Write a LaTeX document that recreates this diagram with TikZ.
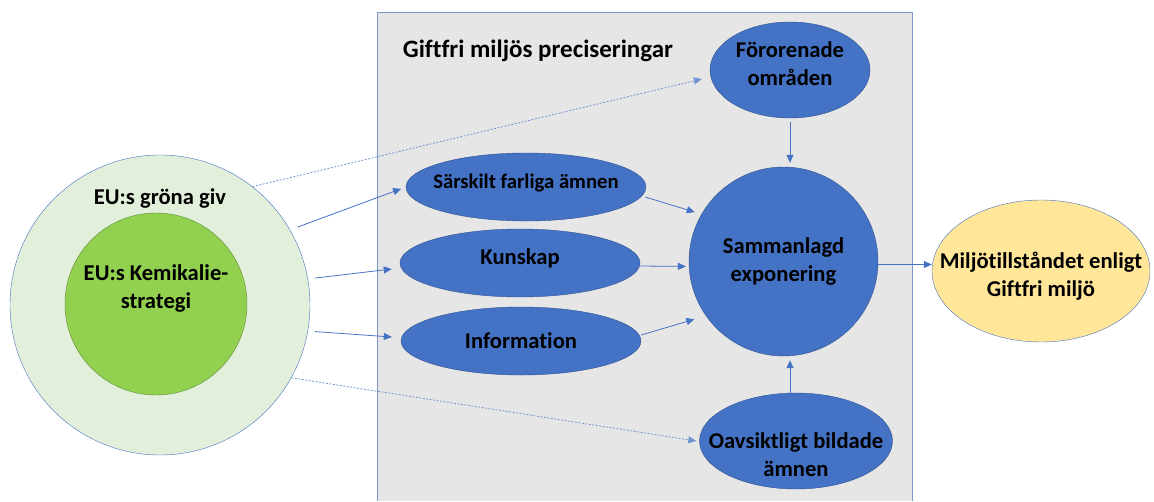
\documentclass[tikz,border=0pt]{standalone}
\usepackage{fontspec}
\setmainfont{Carlito}[Ligatures=NoCommon]
\usetikzlibrary{shapes.geometric,arrows.meta}
\definecolor{accblue}{HTML}{4472C4}
\definecolor{darkblue}{HTML}{2F528F}
\definecolor{boxgray}{HTML}{E7E6E6}
\definecolor{boxline}{HTML}{7A98CF}
\definecolor{palegreen}{HTML}{E2EFDA}
\definecolor{leafgreen}{HTML}{92D050}
\definecolor{darkgreen}{HTML}{5B8A3A}
\definecolor{paleyellow}{HTML}{FFE699}
\tikzset{
  lbl/.style={font=\fontsize{22.6}{28}\selectfont\bfseries, align=center},
  blob/.style={ellipse, draw=darkblue, fill=accblue, inner sep=0pt},
  txt/.style={label={[lbl]center:{#1}}},
  arr/.style={accblue, line width=0.8pt, -{Triangle[length=8pt,width=7pt]}},
  darr/.style={arr, accblue!75, dash pattern=on 2pt off 1.5pt},
}

\begin{document}
\begin{tikzpicture}[x=1pt,y=-1pt]
\useasboundingbox (0,0) rectangle (1154,501);
\fill[boxgray] (377,12) rectangle (912,501);
\draw[boxline, line width=1pt] (377,501) -- (377,12) -- (912,12) -- (912,501);
\node[lbl, font=\fontsize{25}{28}\selectfont\bfseries] (title) at (538,51) {Giftfri miljös preciseringar};

\node[circle, draw=accblue, fill=palegreen, minimum size=300pt, inner sep=0pt] (eu) at (160,305) {};
\node[lbl] (deal) at (160,198) {EU:s gröna giv};
\node[circle, draw=darkgreen, fill=leafgreen, minimum size=182pt, inner sep=0pt,
  label={[lbl,yshift=16pt]center:{EU:s Kemikalie-\\strategi}}] (kemi) at (156,304) {};

\node[blob, minimum width=160pt, minimum height=96pt,
  label={[lbl,yshift=6pt]center:{Förorenade\\områden}}] (forore) at (790,70) {};
\node[blob, minimum width=240pt, minimum height=68pt,
  label={[lbl,font=\fontsize{20.7}{28}\selectfont\bfseries,yshift=4pt]center:{Särskilt farliga ämnen}}] (sarskilt) at (526,187) {};
\node[blob, minimum width=240pt, minimum height=68pt,
  label={[lbl,yshift=5pt]center:{Kunskap}}] (kunskap) at (520,263) {};
\node[blob, minimum width=240pt, minimum height=68pt, txt=Information] (info) at (521,341) {};
\node[circle, draw=darkblue, fill=accblue, minimum size=189pt, inner sep=0pt, lbl] (samman) at (783.5,261.5) {Sammanlagd\\exponering};
\node[blob, minimum width=193pt, minimum height=96pt,
  label={[lbl,yshift=-14pt]center:{Oavsiktligt bildade\\ämnen}}] (oavsikt) at (796,441) {};
\node[ellipse, draw=accblue, fill=paleyellow, minimum width=218pt, minimum height=142pt, inner sep=0pt,
  label={[lbl,yshift=-5pt]center:{Miljötillståndet enligt\\Giftfri miljö}}] (miljo) at (1041,271) {};

\draw[arr, shorten <=8pt, shorten >=5pt] (eu.30) -- (sarskilt.west);
\draw[arr, shorten <=7pt] (eu.10) -- ([shift={(-8,6)}]kunskap.west);
\draw[arr, shorten <=7pt] (eu.-10) -- ([shift={(-9,-4)}]info.west);
\draw[darr] (eu.52) -- ([shift={(-8,9)}]forore.west);
\draw[darr] (eu.-29) -- ([xshift=-3pt]oavsikt.west);
\draw[arr, shorten >=7pt] ([shift={(-1,10)}]sarskilt.east) -- (samman.150);
\draw[arr, shorten >=3pt] ([yshift=-3pt]kunskap.east) -- (samman.183);
\draw[arr, shorten >=12pt] ([yshift=6pt]info.east) -- (samman.215);
\draw[arr, shorten <=4pt, shorten >=4pt] (forore.south) -- (forore.south |- samman.north);
\draw[arr, shorten >=4pt] ([xshift=-6pt]oavsikt.north) -- ([xshift=-6pt]oavsikt.north |- samman.south);
\draw[arr] ([yshift=-3pt]samman.east) -- ([yshift=-3pt]samman.east -| miljo.west);
\end{tikzpicture}
\end{document}
